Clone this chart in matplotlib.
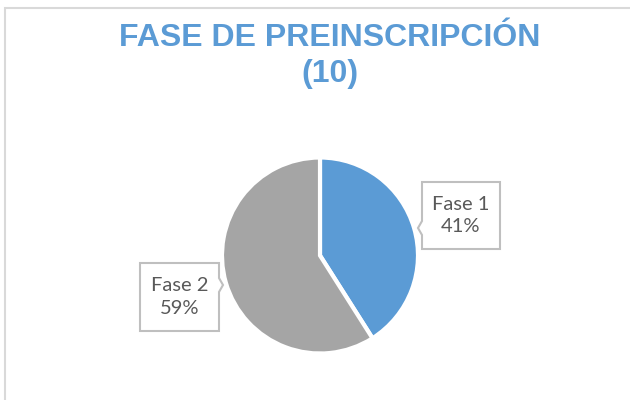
import matplotlib.pyplot as plt
from matplotlib.patches import Rectangle, Polygon

# data
phases = ["Fase 1", "Fase 2"]
shares = [41, 59]
colors = ["#5B9BD5", "#A5A5A5"]
title_lines = ["FASE DE PREINSCRIPCIÓN", "(10)"]

W, H = 630, 400

fig = plt.figure(figsize=(6.3, 4.0), dpi=100)
ax = fig.add_axes([0, 0, 1, 1])
ax.set_xlim(0, W)
ax.set_ylim(0, H)
ax.set_aspect("equal")
ax.axis("off")

# chart area border (only top and left visible)
ax.add_patch(Rectangle((5, -20), 700, H - 8 + 20, fill=False,
                       edgecolor="#D9D9D9", lw=1.5))

# title, one text per line so baselines sit where they should
for line, base in zip(title_lines, [46, 82]):
    ax.text(330, H - base, line, ha="center", va="baseline",
            fontsize=23, fontweight="bold", color="#5B9BD5",
            family="Liberation Sans")

wedges, _ = ax.pie(shares, colors=colors, startangle=90, counterclock=False,
                   center=(320, H - 255.5), radius=98,
                   wedgeprops=dict(edgecolor="white", linewidth=3))
ax.set_xlim(0, W)
ax.set_ylim(0, H)

# callout boxes: (left, top, right, bottom) in image px, pointer side, pointer y, tip x
boxes = [
    (422, 182, 500, 249, "left", 228, 418),
    (140, 263, 219, 331, "right", 285, 223),
]

for name, pct, (l, t, r, b, side, py, tip) in zip(phases, shares, boxes):
    yt, yb = H - t, H - b
    pyy = H - py
    if side == "left":
        pts = [(l, yt), (r, yt), (r, yb), (l, yb), (l, pyy - 7), (tip, pyy), (l, pyy + 7)]
    else:
        pts = [(l, yt), (r, yt), (r, pyy + 7), (tip, pyy), (r, pyy - 7), (r, yb), (l, yb)]
    ax.add_patch(Polygon(pts, closed=True, facecolor="white",
                         edgecolor="#BFBFBF", lw=1.5, zorder=5))
    ax.text((l + r) / 2, (yt + yb) / 2, f"{name}\n{pct}%", ha="center", va="center",
            fontsize=14.5, color="#595959", family="Lato", linespacing=1.4, zorder=6)

fig.savefig("out.png", dpi=100)
